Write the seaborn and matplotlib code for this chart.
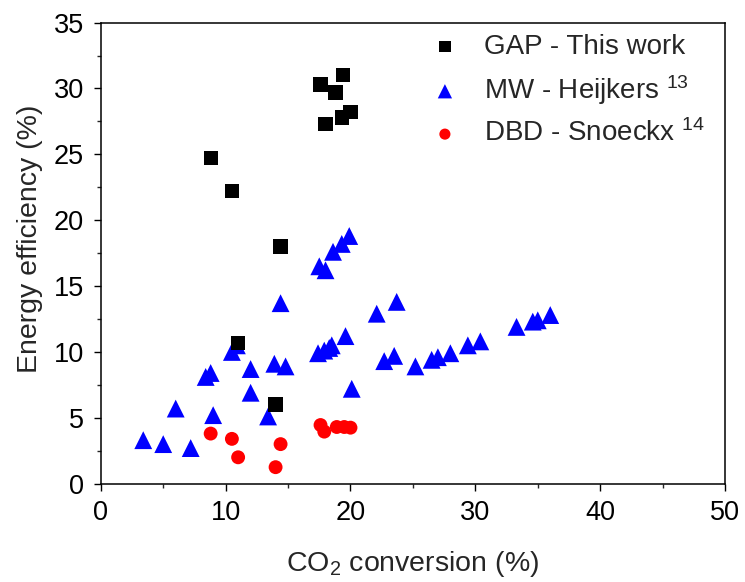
import matplotlib
matplotlib.use("Agg")
import matplotlib.pyplot as plt
import seaborn as sns
import pandas as pd
from matplotlib.ticker import MultipleLocator

# ---- data ----
gap_x = [8.8, 10.5, 14.4, 11.0, 14.0, 17.6, 19.4, 18.8, 18.0, 19.3, 20.0]
gap_y = [24.7, 22.2, 18.0, 10.7, 6.0, 30.3, 31.0, 29.7, 27.3, 27.8, 28.2]

mw_x = [3.4, 5.0, 7.2, 6.0, 9.0, 8.4, 8.8, 10.5, 10.9, 12.0, 12.0, 13.4, 13.9, 14.8,
        14.4, 17.4, 17.9, 18.3, 18.5, 19.6, 20.1, 22.1, 23.7, 22.7, 23.5, 25.2, 26.5,
        27.0, 28.0, 29.4, 30.4, 33.3, 34.6, 35.0, 36.0, 17.5, 18.0, 18.6, 19.3, 19.9]
mw_y = [3.3, 3.0, 2.7, 5.7, 5.2, 8.1, 8.4, 10.0, 10.5, 8.7, 6.9, 5.1, 9.1, 8.9,
        13.7, 9.9, 10.1, 10.3, 10.5, 11.2, 7.2, 12.9, 13.8, 9.3, 9.7, 8.9, 9.4,
        9.6, 9.9, 10.5, 10.8, 11.9, 12.3, 12.4, 12.8, 16.5, 16.2, 17.6, 18.2, 18.8]

dbd_x = [8.8, 10.5, 11.0, 14.4, 14.0, 17.6, 17.9, 18.9, 19.5, 20.0]
dbd_y = [3.8, 3.4, 2.0, 3.0, 1.25, 4.45, 3.95, 4.3, 4.3, 4.25]

labels = ["GAP - This work", "MW - Heijkers $^{13}$", "DBD - Snoeckx $^{14}$"]
x_ticks = [0, 10, 20, 30, 40, 50]
y_ticks = [0, 5, 10, 15, 20, 25, 30, 35]

sns.set_style("ticks")
plt.rcParams["font.family"] = ["Liberation Sans", "DejaVu Sans"]
plt.rcParams["mathtext.fontset"] = "custom"
plt.rcParams["mathtext.rm"] = "Liberation Sans"
plt.rcParams["mathtext.it"] = "Liberation Sans"
plt.rcParams["mathtext.bf"] = "Liberation Sans:bold"
plt.rcParams["mathtext.default"] = "regular"

fig = plt.figure(figsize=(7.45, 5.82), dpi=100)
ax = fig.add_axes([0.1353, 0.1690, 0.8379, 0.7921])

df_gap = pd.DataFrame({"x": gap_x, "y": gap_y})
df_mw = pd.DataFrame({"x": mw_x, "y": mw_y})
df_dbd = pd.DataFrame({"x": dbd_x, "y": dbd_y})

sns.scatterplot(data=df_gap, x="x", y="y", ax=ax, marker="s", s=105,
                color="black", edgecolor="none", label=labels[0], zorder=3)
sns.scatterplot(data=df_mw, x="x", y="y", ax=ax, marker="^", s=165,
                color="#0000ff", edgecolor="none", label=labels[1], zorder=2)
sns.scatterplot(data=df_dbd, x="x", y="y", ax=ax, marker="o", s=100,
                color="#ff0000", edgecolor="none", label=labels[2], zorder=2)

ax.set_xlim(0, 50)
ax.set_ylim(0, 35)
ax.set_xticks(x_ticks)
ax.set_yticks(y_ticks)
ax.xaxis.set_minor_locator(MultipleLocator(5))
ax.yaxis.set_minor_locator(MultipleLocator(2.5))
ax.tick_params(which="major", direction="out", length=5, width=1.0,
               labelsize=19.5, colors="black", top=False, right=False, pad=7)
ax.tick_params(which="minor", direction="out", length=3, width=1.0,
               top=False, right=False)
for sp in ax.spines.values():
    sp.set_visible(True)
    sp.set_linewidth(1.1)
    sp.set_color("black")

ax.set_xlabel("CO$_2$ conversion (%)", fontsize=20.5)
ax.set_ylabel("Energy efficiency (%)", fontsize=20.5)
ax.xaxis.set_label_coords(0.5, -0.141)
ax.yaxis.set_label_coords(-0.0926, 0.53)

leg = ax.legend(loc="upper left", bbox_to_anchor=(0.529, 0.976), frameon=False,
                fontsize=20, handlelength=1.0, handletextpad=0.9,
                borderpad=0, borderaxespad=0, labelspacing=0.47,
                scatterpoints=1, markerscale=0.8)

fig.savefig("out.png", dpi=100, facecolor="white")
